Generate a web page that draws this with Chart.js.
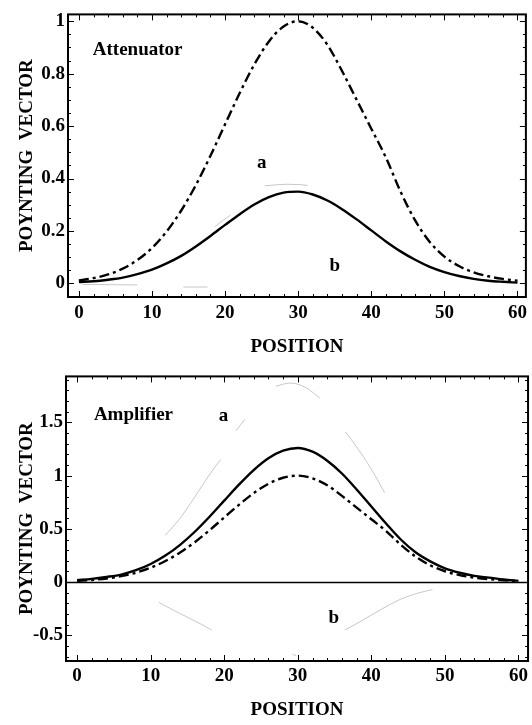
<!DOCTYPE html>
<html>
<head>
<meta charset="utf-8">
<title>Poynting vector</title>
<script src="https://cdn.jsdelivr.net/npm/chart.js@4.4.1/dist/chart.umd.min.js"></script>
<style>
    html, body { margin: 0; padding: 0; background: #fff; }
    #page { position: relative; width: 532px; height: 725px; overflow: hidden; }
    canvas { position: absolute; left: 0; }
    #topChart { top: 0; }
    #bottomChart { top: 362px; }
</style>
</head>
<body>
<div id="page">
    <canvas id="topChart" width="532" height="362"></canvas>
    <canvas id="bottomChart" width="532" height="363"></canvas>
</div>
<script>
// Sample positions along the medium
const position = [0, 2, 4, 6, 8, 10, 12, 14, 16, 18, 20, 22, 24, 26, 28, 30,
                  32, 34, 36, 38, 40, 42, 44, 46, 48, 50, 52, 54, 56, 58, 60];

// Incident pulse (dash-dot, same in both panels)
const incident = [0.011, 0.020, 0.034, 0.056, 0.089, 0.135, 0.198, 0.278, 0.375, 0.487, 0.607,
                  0.726, 0.835, 0.923, 0.980, 1.000, 0.975, 0.910, 0.810, 0.700, 0.590,
                  0.480, 0.350, 0.240, 0.158, 0.102, 0.066, 0.042, 0.027, 0.017, 0.010];

// Transmitted pulse, attenuator (solid, top panel)
const attenuated = [0.005, 0.008, 0.014, 0.022, 0.035, 0.052, 0.076, 0.105, 0.141, 0.181, 0.223,
                    0.264, 0.301, 0.329, 0.346, 0.350, 0.339, 0.316, 0.283, 0.244, 0.202,
                    0.160, 0.122, 0.090, 0.063, 0.043, 0.028, 0.017, 0.010, 0.006, 0.003];

// Transmitted pulse, amplifier (solid, bottom panel)
const amplified = [0.018, 0.030, 0.048, 0.071, 0.112, 0.170, 0.249, 0.350, 0.473, 0.614, 0.765,
                   0.915, 1.052, 1.163, 1.235, 1.260, 1.225, 1.140, 1.020, 0.870, 0.710,
                   0.550, 0.400, 0.280, 0.195, 0.130, 0.088, 0.058, 0.042, 0.025, 0.012];

// Faint traces (curves a and b), only partly visible
const topFaintPosA = [18.6, 19.6, 20.7, 23, 25.4, 27, 28.5, 30, 31.3];
const topFaintA = [0.216, 0.238, 0.260, null, 0.372, 0.376, 0.378, 0.377, 0.374];
const topFaintPosB = [0.5, 4, 8, 11, 14.3, 16, 17.6];
const topFaintB = [-0.004, -0.005, -0.006, null, -0.014, -0.014, -0.014];

const bottomFaintPosA = [12, 14, 16, 18, 19.5, 20.5, 21.6, 22.8, 25, 27, 29, 31, 33, 35, 36.5, 38, 40, 41.8];
const bottomFaintA = [0.44, 0.60, 0.80, 1.01, 1.15, null, 1.42, 1.53, null, 1.84, 1.87, 1.83, 1.73, null, 1.41, 1.27, 1.06, 0.84];
const bottomFaintPosB = [11.1, 13, 15, 17, 18.3, 24, 29.3, 29.8, 33, 36.4, 38, 40, 42, 44, 46, 48.3];
const bottomFaintB = [-0.19, -0.26, -0.33, -0.40, -0.45, null, -0.68, -0.69, null, -0.45, -0.39, -0.31, -0.23, -0.16, -0.11, -0.07];

const FONT = '"Liberation Serif", "Times New Roman", serif';
const textFont = { family: FONT, size: 19, weight: 'bold' };

function toPoints(xs, ys) {
    return xs.map((x, i) => ({ x: x, y: ys[i] }));
}

function nearMultiple(v, step) {
    const r = v / step;
    return Math.abs(r - Math.round(r)) < 1e-6;
}

// Frame, inward ticks, zero line and text labels
const framePlugin = {
    id: 'frame',
    afterDatasetsDraw(chart, args, opts) {
        const ctx = chart.ctx;
        const a = chart.chartArea;
        const xs = chart.scales.x;
        const ys = chart.scales.y;
        ctx.save();
        ctx.strokeStyle = '#000';

        if (opts.zeroLine) {
            const y0 = Math.round(ys.getPixelForValue(0)) + 0.5;
            ctx.lineWidth = 1.5;
            ctx.beginPath();
            ctx.moveTo(a.left, y0);
            ctx.lineTo(a.right, y0);
            ctx.stroke();
        }

        // x ticks on bottom and top edges
        ctx.lineWidth = 1;
        ctx.beginPath();
        for (let v = Math.ceil(xs.min / 2) * 2; v <= xs.max; v += 2) {
            const px = Math.round(xs.getPixelForValue(v)) + 0.5;
            const len = nearMultiple(v, 10) ? 6 : 3;
            ctx.moveTo(px, a.bottom);
            ctx.lineTo(px, a.bottom - len);
            ctx.moveTo(px, a.top);
            ctx.lineTo(px, a.top + len);
        }
        // y ticks on left and right edges
        const minor = opts.yMinor;
        const start = Math.ceil(ys.min / minor);
        const end = Math.floor(ys.max / minor);
        for (let k = start; k <= end; k++) {
            const v = k * minor;
            const py = Math.round(ys.getPixelForValue(v)) + 0.5;
            const len = nearMultiple(v, opts.yMajor) ? 6 : 3;
            ctx.moveTo(a.left, py);
            ctx.lineTo(a.left + len, py);
            ctx.moveTo(a.right, py);
            ctx.lineTo(a.right - len, py);
        }
        ctx.stroke();

        ctx.lineWidth = 2;
        ctx.strokeRect(a.left, a.top, a.right - a.left, a.bottom - a.top);

        ctx.fillStyle = '#000';
        ctx.font = 'bold 19px ' + FONT;
        ctx.textBaseline = 'middle';
        opts.labels.forEach(l => {
            ctx.textAlign = l.align || 'center';
            ctx.fillText(l.text, xs.getPixelForValue(l.x), ys.getPixelForValue(l.y));
        });
        ctx.restore();
    }
};

function solid(data) {
    return { data: data, borderColor: '#000', borderWidth: 2.4 };
}

function dashDot(data) {
    return { data: data, borderColor: '#000', borderWidth: 2.4, borderDash: [10, 4, 3, 4] };
}

function faint(data) {
    return { data: data, borderColor: 'rgba(0,0,0,0.22)', borderWidth: 1, spanGaps: false };
}

function makeChart(id, datasets, cfg) {
    return new Chart(document.getElementById(id), {
        type: 'line',
        data: { datasets: datasets },
        plugins: [framePlugin],
        options: {
            responsive: false,
            animation: false,
            devicePixelRatio: 1,
            layout: { padding: { left: 0, top: cfg.top, right: 1, bottom: 0 } },
            elements: {
                point: { radius: 0 },
                line: { cubicInterpolationMode: 'monotone', fill: false }
            },
            plugins: {
                legend: { display: false },
                tooltip: { enabled: false },
                frame: { yMinor: cfg.yMinor, yMajor: cfg.yMajor, zeroLine: cfg.zeroLine, labels: cfg.labels }
            },
            scales: {
                x: {
                    type: 'linear',
                    min: cfg.xMin,
                    max: cfg.xMax,
                    grid: { display: false, drawTicks: false },
                    border: { display: false },
                    ticks: {
                        stepSize: 10, includeBounds: false, autoSkip: false, maxRotation: 0,
                        padding: cfg.xPad, color: '#000', font: textFont
                    },
                    title: {
                        display: true, text: 'POSITION', color: '#000', font: textFont,
                        padding: { top: 0, bottom: cfg.titlePad }
                    },
                    afterFit: s => { s.height = cfg.xHeight; }
                },
                y: {
                    min: cfg.yMin,
                    max: cfg.yMax,
                    grid: { display: false, drawTicks: false },
                    border: { display: false },
                    ticks: {
                        stepSize: cfg.yMajor, includeBounds: false, autoSkip: false,
                        padding: 3, color: '#000', font: textFont,
                        callback: v => String(Math.round(v * 100) / 100)
                    },
                    title: {
                        display: true, text: 'POYNTING  VECTOR', color: '#000', font: textFont,
                        padding: { top: 16, bottom: 0 }
                    },
                    afterFit: s => { s.width = cfg.yWidth; }
                }
            }
        }
    });
}

document.addEventListener('DOMContentLoaded', function() {
    // Attenuator
    makeChart('topChart', [
        solid(toPoints(position, attenuated)),
        dashDot(toPoints(position, incident)),
        faint(toPoints(topFaintPosA, topFaintA)),
        faint(toPoints(topFaintPosB, topFaintB))
    ], {
        top: 8, xMin: -1.49, xMax: 61.15, yMin: -0.052, yMax: 1.026,
        yMajor: 0.2, yMinor: 0.05, zeroLine: false,
        xPad: 5, titlePad: 4, xHeight: 65, yWidth: 68,
        labels: [
            { text: 'Attenuator', x: 1.9, y: 0.89, align: 'left' },
            { text: 'a', x: 25, y: 0.46 },
            { text: 'b', x: 35, y: 0.067 }
        ]
    });

    // Amplifier
    makeChart('bottomChart', [
        solid(toPoints(position, amplified)),
        dashDot(toPoints(position, incident)),
        faint(toPoints(bottomFaintPosA, bottomFaintA)),
        faint(toPoints(bottomFaintPosB, bottomFaintB))
    ], {
        top: 10, xMin: -1.51, xMax: 61.3, yMin: -0.741, yMax: 1.932,
        yMajor: 0.5, yMinor: 0.1, zeroLine: true,
        xPad: 4, titlePad: 4, xHeight: 64, yWidth: 66,
        labels: [
            { text: 'Amplifier', x: 2.28, y: 1.568, align: 'left' },
            { text: 'a', x: 19.9, y: 1.56 },
            { text: 'b', x: 34.9, y: -0.336 }
        ]
    });
});
</script>
</body>
</html>
